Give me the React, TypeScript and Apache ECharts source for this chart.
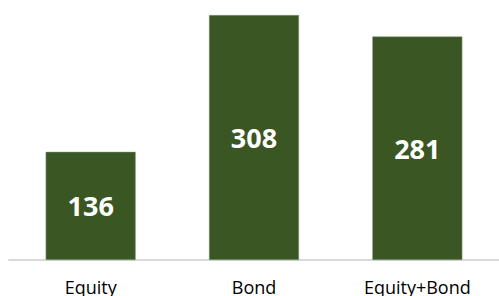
import React, { useEffect, useRef } from "react";
import * as echarts from "echarts";

const categories = ["Equity", "Bond", "Equity+Bond"];
const values = [136, 308, 281];

export default function App() {
  const ref = useRef<HTMLDivElement>(null);
  useEffect(() => {
    if (!ref.current) return;
    const chart = echarts.init(ref.current, null, { renderer: "svg" });
    chart.setOption({
      animation: false,
      grid: { left: 9, right: 0, top: 15, bottom: 36 },
      xAxis: {
        type: "category",
        data: categories,
        axisLine: { lineStyle: { color: "#d9d9d9", width: 2 } },
        axisTick: { show: false },
        axisLabel: {
          color: "#000",
          fontFamily: "Open Sans",
          fontSize: 18,
          margin: 18,
        },
      },
      yAxis: {
        type: "value",
        min: 0,
        max: 308,
        show: false,
        splitLine: { show: false },
      },
      series: [
        {
          type: "bar",
          data: values,
          barWidth: 90,
          itemStyle: { color: "#3a5623", borderColor: "#8a9a80", borderWidth: 0.5 },
          label: {
            show: true,
            position: "inside",
            color: "#fff",
            fontFamily: "Open Sans",
            fontWeight: "bold",
            fontSize: 27,
          },
        },
      ],
    });
    return () => chart.dispose();
  }, []);
  return (
    <div
      ref={ref}
      style={{ position: "absolute", left: 0, top: 0, width: 499, height: 296 }}
    />
  );
}
